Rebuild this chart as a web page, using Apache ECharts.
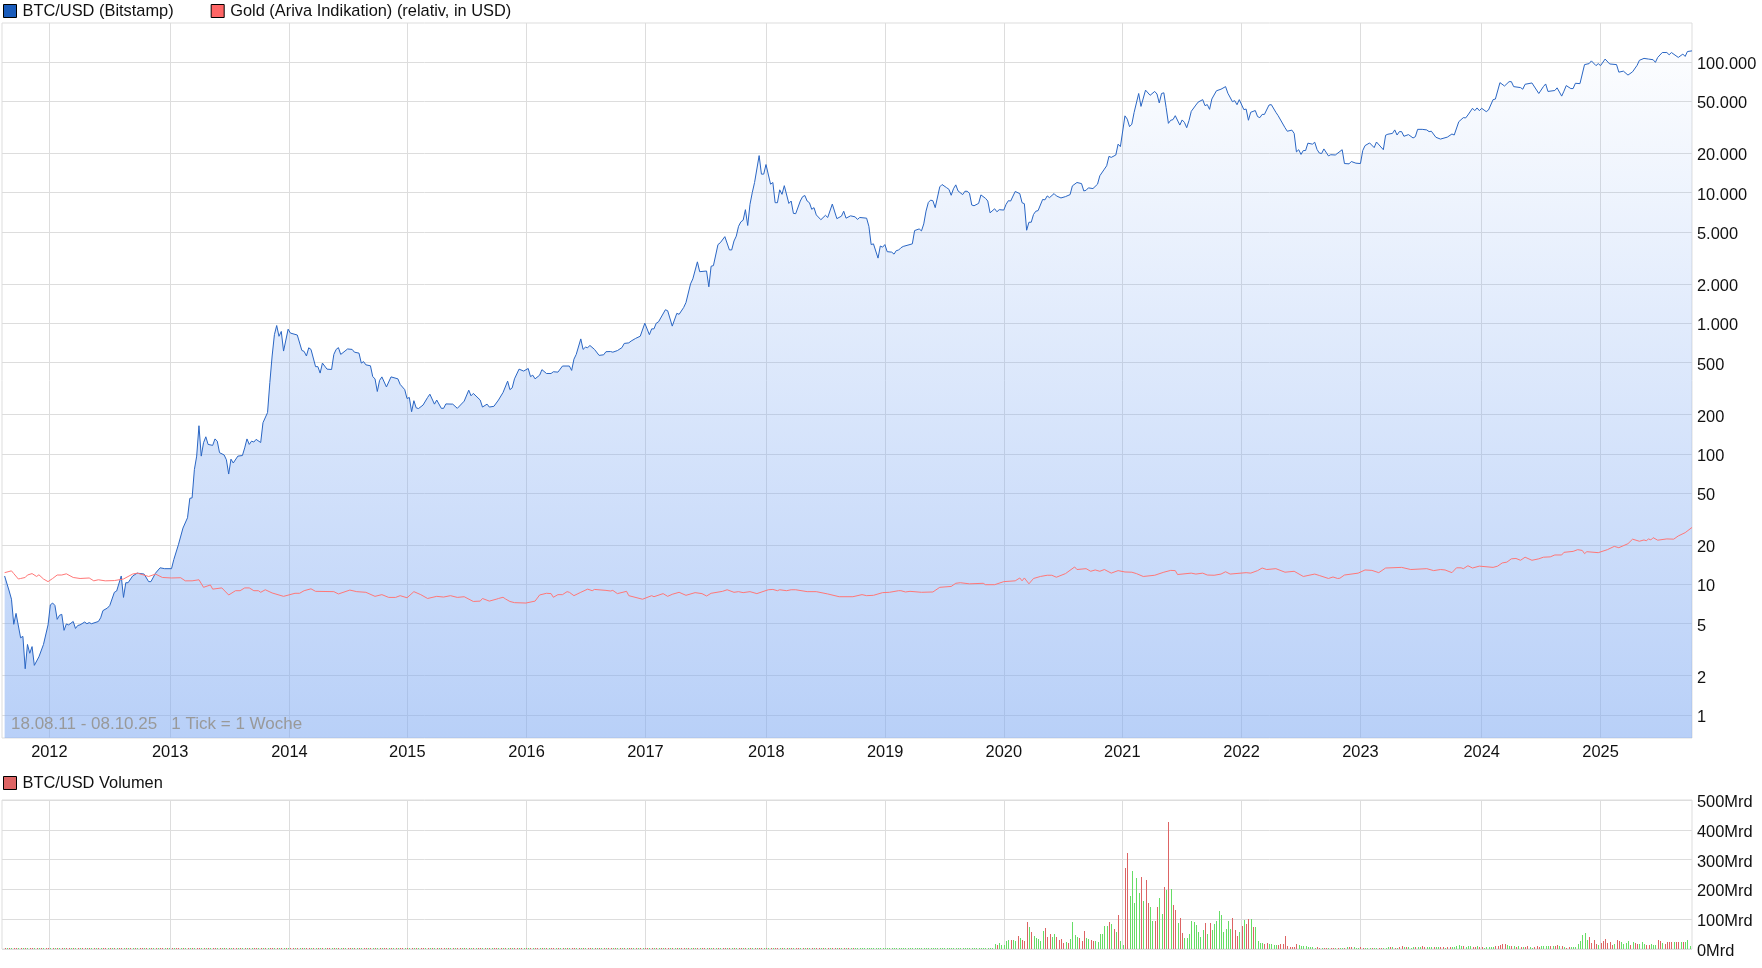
<!DOCTYPE html>
<html>
<head>
<meta charset="utf-8">
<title>BTC/USD</title>
<script src="https://cdn.jsdelivr.net/npm/echarts@6/dist/echarts.min.js"></script>
<style>
html, body { margin: 0; padding: 0; background: #fff; }
#chart { width: 1762px; height: 968px; }
</style>
</head>
<body>
<div id="chart"></div>
<script>
// weeks are counted from the first tick of the chart (17.08.11)
var firstWeek = Date.UTC(2011, 7, 17);

var btcWeeks = [
  0,2,3,4,5,7,8,9,10,11,12,13,15,17,19,20,21,22,23,24,25,26,27,28,30,31,32,33,35,36,37,38,41,42,43,45,46,48,49,51,52,53,54,56,58,61,63,64,66,68,70,73,74,76,
  78,80,81,82,83,84,85,86,87,88,89,91,92,93,94,96,97,98,99,100,102,104,105,106,107,108,109,110,112,113,115,116,117,118,119,120,121,122,124,125,128,130,131,132,133,134,136,137,138,139,141,143,144,145,146,147,148,150,152,153,155,156,157,158,160,161,162,163,164,165,167,169,172,173,175,176,177,178,179,180,181,183,185,186,188,189,191,192,193,196,198,201,203,204,205,208,209,211,212,214,216,218,220,221,222,223,225,227,229,230,231,232,234,
  235,237,239,240,242,244,247,248,249,250,252,253,254,255,256,258,260,262,263,265,266,268,270,271,273,274,276,278,280,282,283,284,285,286,289,290,292,294,295,297,298,300,301,303,304,307,308,309,310,312,313,315,317,318,319,320,321,322,323,324,325,326,327,328,330,331,332,333,335,336,337,338,339,340,341,343,344,345,346,348,349,350,351,352,353,354,355,357,359,360,362,364,366,367,368,370,372,373,374,377,378,379,380,382,383,384,385,386,388,389,390,391,
  392,393,397,398,400,401,402,403,404,405,406,407,409,410,412,413,414,415,416,417,419,420,421,422,423,424,426,427,429,430,431,433,434,435,437,438,439,440,442,444,445,446,447,448,449,450,451,452,454,455,456,457,459,460,462,464,466,467,469,471,472,473,474,476,478,479,481,482,483,484,486,487,488,490,491,492,493,494,496,497,499,501,503,504,505,
  506,507,508,509,510,511,512,514,515,516,517,518,519,521,522,524,525,526,527,528,530,532,534,535,537,538,539,540,542,543,544,545,547,548,549,550,551,553,554,556,557,560,561,563,564,565,566,567,568,569,570,572,573,574,575,576,577,579,580,582,585,586,588,589,591,593,594,595,597,599,600,603,604,605,607,608,609,610,611,612,614,616,617,618,620,622,623,
  624,626,628,631,633,634,636,638,639,640,642,643,644,645,646,648,649,651,652,654,656,658,659,660,663,664,665,668,671,673,674,675,678,679,681,682,683,685,686,687,689,691,693,694,696,697,698,700,702,705,706,708,710,712,714,715,717,719,721,722,723,725,727,728,729,732,734,735,736,738
];
var btcValues = [
  11.6,8.9,7.7,4.95,6.0,3.9,4.0,2.26,3.47,2.97,3.34,2.4,2.79,3.47,4.9,6.97,7.2,6.9,5.4,5.8,5.9,4.45,4.98,4.9,5.2,4.6,4.85,4.9,5.15,5.0,5.1,5.0,5.2,5.55,6.3,6.6,6.9,8.7,8.9,11.6,7.95,10.3,10.3,11.6,12.2,12,10.5,10.5,12.2,13.4,13.2,13.2,15.5,20.1,
  27,32.4,45.6,46,75.7,96,164,96,121.6,135,118,116,130,125,102,98,90,70,91,85,96,97,111,130,118,125,123,129,122,173,207,351,561,817,960,794,865,612,900,840,812,619,608,561,648,630,465,465,415,495,445,442,577,630,650,577,595,635,630,600,590,495,508,480,472,390,375,300,365,388,325,388,375,340,310,265,270,210,255,225,222,236,270,286,240,258,223,223,241,240,223,253,307,278,290,258,228,240,228,231,258,295,360,310,320,375,445,430,450,390,400,375,400,
  441,412,412,425,422,470,470,435,530,577,758,630,655,650,675,630,567,573,605,607,600,617,650,700,707,730,765,795,1000,817,905,905,1000,1025,1268,1245,950,1190,1170,1320,1440,2000,2185,2950,2480,2510,1900,2730,2760,4000,4130,4600,3640,3640,4260,4640,5520,5970,6150,7400,5600,8130,10000,11950,19200,13850,13850,16400,11600,11950,8370,8370,10500,9700,11300,8260,8620,6930,6900,8620,9300,9500,8620,8370,7450,7670,6750,6200,6700,6450,8170,6320,6600,7200,6370,6640,6520,6230,6450,6370,5520,4000,4050,3150,3900,3820,4000,3530,3500,3380,3600,3630,
  3780,3870,4050,5120,5270,5090,5760,7220,8400,8760,8660,7670,11060,11530,10900,10600,9540,10700,11460,10300,9650,10240,10240,9880,8030,7930,8270,9600,9040,8620,7000,7520,7130,7400,7350,8130,8670,8620,10200,9820,8370,8220,5150,5930,5930,6800,7200,7280,8860,8800,9430,9150,9830,9430,9100,9320,9650,11260,11950,11720,10300,10420,10870,10740,11600,13450,15130,16050,18950,18600,19400,23500,22500,38700,36500,32000,33400,41100,57400,45700,60900,55600,59500,56900,48600,
  57400,58100,44900,33900,35800,36200,38800,32900,36000,34500,31400,35600,41900,46800,49300,51500,46300,47200,43400,52100,60200,61900,64800,57700,49700,50600,47100,51500,43200,43600,35800,41200,42500,38200,37500,39700,39700,46800,47200,41200,38800,31400,29500,30100,28400,20500,21300,19600,21000,21000,23900,23500,24300,21400,20100,19900,21600,19100,19500,19400,21300,16700,16600,17300,16800,16700,21000,22900,24000,22100,24400,21300,27500,28000,28400,30200,27600,29300,29300,27000,27800,26200,26800,30500,30500,30200,29300,
  29500,26500,25700,26600,28100,27600,34900,37500,37300,39300,44200,42400,44500,42400,44200,41700,42900,51500,52000,69500,65500,70700,70700,64800,63700,61900,67500,69100,57400,64800,67900,59500,60500,63400,54800,59800,66000,62600,62600,68700,68300,95500,97200,102000,93800,97200,93800,105300,96600,95500,83600,85100,79400,84100,94400,103000,106600,105300,104100,99400,108400,118200,118200,113600,118200,108400,115000,110300,120300,121700
];

var goldWeeks = [
  0,3,4,6,7,9,10,12,14,15,17,19,21,23,25,27,30,33,37,39,41,44,48,52,56,58,63,66,69,73,77,79,82,85,87,90,91,95,98,101,103,105,107,109,111,112,114,117,122,127,129,131,134,136,144,146,151,154,158,162,165,168,171,173,176,179,182,185,189,192,195,198,201,205,208,209,212,215,216,
  218,219,221,223,228,232,234,237,239,240,242,244,246,247,249,252,255,257,258,263,265,266,268,272,273,279,283,284,288,290,292,295,298,302,305,307,309,314,316,319,321,323,326,329,334,336,338,339,342,344,346,351,355,360,365,371,375,377,380,384,387,391,392,394,396,401,406,409,414,416,418,422,428,429,433,437,442,444,445,446,448,450,453,456,458,460,464,468,469,473,475,477,
  479,481,484,487,490,493,495,498,503,507,510,512,513,519,521,524,526,529,532,534,536,543,545,548,550,552,556,560,564,568,573,575,579,581,583,584,586,592,595,598,601,604,611,615,622,625,628,630,633,635,637,638,640,642,645,651,653,655,657,659,661,663,665,668,671,673,676,678,681,682,686,688,690,691,692,697,701,704,706,710,712,715,717,718,719,720,721,723,727,730,732,735,738
];
var goldValues = [
  12.3,12.7,12.1,11,11.1,11.3,11.8,12.1,11.5,11.85,11,10.5,11.1,11.8,11.8,12.05,11.3,11.1,11.2,10.65,10.85,10.65,10.7,11,12,12.2,11.5,12,11.3,11.2,11.25,10.65,10.65,10.85,9.5,9.9,9.2,9.4,8.3,8.95,8.95,9.4,9.4,8.95,8.95,8.7,9.1,8.6,8.1,8.55,8.55,8.95,9.25,8.85,8.8,8.45,9.05,8.8,8.7,8.1,8.35,7.95,7.95,8.2,7.9,8.8,8.35,7.8,8.1,8,8.2,7.95,8.05,7.4,7.45,7.8,7.45,7.7,7.8,
  7.97,7.75,7.4,7.25,7.2,7.45,8.3,8.55,8.5,7.97,8.35,8.35,8.8,8.7,8.2,8.7,9.2,8.95,9.15,9,8.9,9,8.5,8.85,8.2,7.7,8.2,8.05,8.5,8.1,8.4,8.7,8.25,8.65,8.5,8.15,8.55,8.85,9.1,8.7,8.8,8.65,8.8,8.5,9.1,9.15,8.95,9.1,8.95,9.1,9.1,8.8,8.8,8.45,8.05,8.05,8.35,8.2,8.25,8.65,8.7,8.95,8.95,8.75,8.85,8.7,8.75,9.5,9.65,10.2,10.3,10.1,10.2,9.95,9.95,10.5,10.65,11.2,10.65,11.2,10.1,11.1,11.5,11.75,11.75,11.35,12.1,13.6,13,13.2,12.6,12.9,
  12.6,13,12.2,12.75,12.45,12.4,12.1,11.5,11.75,12.4,12.8,12.75,11.9,12.2,12,12.2,11.8,11.75,12,12.5,12,12.3,12.2,12.75,13.35,13,13.2,12.4,12.6,11.5,12,11.7,11.1,11.4,11.1,11.15,11.8,12.2,12.9,12.8,12.3,13.35,13.5,13,13.2,12.75,13,12.9,12.3,13.4,13.4,13.2,13.9,13.35,13.8,13.5,13.8,14.6,14.8,15.7,15.8,15.3,16.15,15.3,15.7,16.15,16.25,16.8,16.8,17.6,17.9,18.45,18.2,17.2,17.8,17.5,18.45,19.55,19.1,20.5,22.2,21.4,21.9,21.6,22.3,21.9,22.8,21.8,22.3,22.2,23.5,24.9,27.3
];

// volume in Mrd, one value per week, g = green week, r = red week
var volEarly = [
  0.1,0.1,0.1,0.1,0.1,0.1,0.1,0.1,0.1,0.1,0.1,0.1,0.1,0.1,0.1,0.1,0.1,0.1,0.1,0.1,0.1,0.1,0.1,0.1,0.1,0.1,
  0.1,0.1,0.1,0.1,0.1,0.1,0.1,0.1,0.1,0.1,0.1,0.1,0.1,0.1,0.1,0.1,0.1,0.1,0.1,0.1,0.1,0.1,0.1,0.1,0.1,0.1,
  0.1,0.1,0.1,0.1,0.1,0.1,0.1,0.1,0.1,0.1,0.1,0.1,0.1,0.1,0.1,0.1,0.1,0.1,0.1,0.1,0.1,0.1,0.1,0.1,0.1,0.1,
  0.1,0.1,0.1,0.1,0.1,0.1,0.1,0.1,0.1,0.1,0.1,0.1,0.1,0.1,0.1,0.1,0.1,0.1,0.1,0.1,0.1,0.1,0.1,0.1,0.1,0.1,
  0.1,0.1,0.1,0.1,0.1,0.1,0.1,0.1,0.1,0.1,0.1,0.1,0.1,0.1,0.1,0.1,0.1,0.1,0.1,0.1,0.1,0.1,0.1,0.1,0.1,0.1,
  0.1,0.1,0.1,0.1,0.1,0.1,0.1,0.1,0.1,0.1,0.1,0.1,0.1,0.1,0.1,0.1,0.1,0.1,0.1,0.1,0.1,0.1,0.1,0.1,0.1,0.1,
  0.2,0.2,0.1,0.1,0.2,0.1,0.1,0.2,0.2,0.1,0.2,0.1,0.1,0.2,0.1,0.2,0.2,0.1,0.1,0.2,0.2,0.1,0.2,0.1,0.2,0.1,
  0.2,0.2,0.3,0.2,0.2,0.3,0.2,0.3,0.3,0.2,0.2,0.3,0.2,0.3,0.2,0.3,0.3,0.2,0.3,0.3,0.2,0.3,0.3,0.2,0.3,0.3,
  0.3,0.4,0.3,0.4,0.4,0.3,0.4,0.5,0.4,0.4,0.5,0.4,0.5,0.4,0.5,0.5,0.6,0.5,0.5,0.6,0.5,0.6,0.7,0.6,0.7,0.7,
  0.8,0.7,0.9,0.8,0.9,1,0.9,1,1.1,1,1.2,1.1,1.3,1.2,1.4,1.3,1.5,1.4,1.6,1.8,1.7,1.9,1.8,2.2,1.9,2,
  2.1,1.9,1.8,1.7,1.9,1.7,1.6,1.5,1.7,1.5,1.6,1.4,1.5,1.4,1.3,1.5,1.4,1.3,1.4,1.3,1.4,1.2,1.3,1.5,1.4,1.3,
  1.4,1.6,1.5,1.7,1.8,1.6,2,1.9,2.1,2.3,2.5,2.2,2.4,2.6,2.2,2.4,2.1,2.3,2.5,2.2,2,2.3,2.1,2.4,2.2,2.5,
  2.3,2.7,2.5,2.9,2.6,2.8,3,2.7,2.9,3.1,2.8,3,2.7,3.2,3,2.9,3.1,2.8,3,3.3,3,3.1,3,3.2,3,3.1,
  3.2,3,3.1,3,3.1,3,3,3,2.8,2.7,2.9,2.6,2.4,2.5,2.3,2.6,2.4,2.2,2.3,2.5,2.1,2.2,2.4,2.3,2.1,2.2,2.4,2.2,2.3,2.5,
  2.4,2.6,2.3,2.5,2.7,2.4,2.6,2.8,2.5,2.7,2.9,2.6,2.8,2.5,2.7,2.9,2.8,2.6,2.8,3,2.7,2.9,3.1,2.8,3,2.8,
  3,3.2,2.9,3.1,3.3,3,3.2,3.4,3.1,3.3,3.5,3.2,3.4,3.1,3.3,3.5,3.3,3.1,3.4,3.6,3.3,3.5,3.7,3.4,3.6,3.4,
  3.2,3,3.1,3,3.1,3,3,3,3,3,3,3,3,3,3,3,3,3,3,3
];
var volEarlySides = 'rgrgrrgrgrgrrgrgrgrrgrgrgrgrrgrgrgrrgrgrgrgrrgrgrgrrgrgrgrgrrgrgrgrgrrgrgrgrrgrgrgrgrrgrgrgrrgrgrgrgrrgrgrgrgrrgrgrgrrgrgrgrgrrgrgrgrrgrgrgrgrrgrgrgrgrrgrgrgrrgrgrgrgrrgrgrgrrgrgrgrgrrgrgrgrgrrgrgrgrrgrgrgrgrrgrgrgrrgrgrgrgrrgrgrgrgrrgrgrgrrgrgrgrgrrgrgrgrrgrgrgrgrrgrgrgrgrrgrgrgrrgrgrgrgrrgrgrgrrgrgrgrgrrgrgrgrgrrgrgrgrrgrgrgrgrrgrgrgrrgrgrgrgrrgrgrgrgrrgrgrgrrgrgrgrgr';
var volPeakStart = 433;
var volPeak = [
  17,13,20,13,13,27,30,30,30,27,43,37,30,27,90,73,57,43,37,33,27,60,70,40,50,40,50,40,30,33,20,23,20,33,90,47,40,37,27,60,37,33,30,27,27,23,50,50,77,77,90,83,67,57,113,27,12,
  273,323,177,263,153,237,187,240,160,230,153,140,93,93,140,170,117,207,197,427,200,147,130,87,103,53,37,37,50,93,90,80,57,40,63,87,50,87,63,83,93,127,113,57,67,93,67,103,63,43,57,77,97,83,100,100,73,73,27,20,20,17,20,17,17,13,13,13,17,17,43,10,7,7,7,17,13
];
var volPeakSides = 'grgggggrggrgrrrgrgggggrrrggrrrrgrggggrrrggrrggggggrgrgrg' +
  'grrgggggrgrrggrrggrgrgrrgrrgggggggggrgrgggggggggrrrgrgrrgrggggrrggggrrrrrrrrrgrr';
var volLate = [
  9,9,10,7,6,6,5,6,5,4,5,4,3,5,5,3,4,2,3,2,7,6,6,6,4,3,6,3,3,3,2,5,4,3,4,5,4,4,6,6,6,3,5,6,9,8,6,7,5,7,6,6,6,10,6,7,8,6,6,6,7,6,6,5,6,6,7,6,10,12,9,9,8,9,9,8,8,9,8,8,5,8,7,7,7,9,10,14,16,17,13,10,10,9,8,9,7,8,6,9,8,5,8,9,7,9,9,9,10,10,9,9,12,10,9,8,5,8,8,7,7,
  18,27,47,54,30,40,20,30,17,12,20,27,33,20,25,13,17,30,27,22,17,20,26,14,23,19,17,17,24,18,15,12,17,14,15,30,26,20,18,24,25,23,22,23,22,23,23,22,30,10
];
var volLateSides = 'gggggggrrgrrgrrgrggrgrrgggrrgggrggrrgggrgrgrrgrgggrggrrgggrggrrgrrgggggrgggrrgrrgggggrrrrrggrgrgrgrrggrrrggggrgrrgrgrrg' +
  'ggggggg' + 'rrrrgrrrrrrgrrggggrgrrgggrrgggrrgrrrrgrrg' + 'r';

var yearTicks = [
  '2012-01-01','2013-01-05','2014-01-05','2015-01-01','2016-01-01','2016-12-30','2018-01-04',
  '2019-01-03','2020-01-01','2020-12-29','2021-12-29','2022-12-28','2024-01-03','2025-01-01'
];
var yearLabels = ['2012','2013','2014','2015','2016','2017','2018','2019','2020','2021','2022','2023','2024','2025'];
var priceTicks = [1,2,5,10,20,50,100,200,500,1000,2000,5000,10000,20000,50000,100000];

var weekDay = 7 * 24 * 3600 * 1000;
function weekDate(k) {
  return firstWeek + k * weekDay;
}
var tickTimes = yearTicks.map(function (d) { return new Date(d + 'T00:00:00Z').getTime(); });

function volBars(values, sides, start) {
  return values.map(function (v, i) {
    return [weekDate(start + i), v, sides.charAt(i) === 'r' ? 1 : 0];
  });
}

// one pixel bars, snapped so they stay crisp
function renderVolBar(params, api) {
  var top = api.coord([api.value(0), api.value(1)]);
  var base = api.coord([api.value(0), 0]);
  var x = Math.round(top[0]);
  var y = Math.min(Math.round(top[1]), Math.round(base[1]) - 1);
  return {
    type: 'rect',
    shape: { x: x, y: y, width: 1, height: Math.round(base[1]) - y },
    style: { fill: api.value(2) === 1 ? '#dd6464' : '#66dd66' }
  };
}

var labelFont = { fontFamily: 'Liberation Sans', fontSize: 16.4, color: '#111', padding: [2, 0, 0, 1] };

// linear axis over timestamps, the ticks are set by hand from yearTicks
var xBase = {
  type: 'value',
  scale: true,
  min: Date.UTC(2011, 7, 9),
  max: Date.UTC(2025, 9, 8),
  axisLine: { show: false },
  axisTick: { show: false, customValues: tickTimes },
  splitLine: { show: true, lineStyle: { color: '#ddd', width: 1 } }
};

var myChart = echarts.init(document.getElementById('chart'));
var option = {
  animation: false,
  backgroundColor: '#fff',
  textStyle: { fontFamily: 'Liberation Sans' },
  legend: [{
    left: 3, top: 3, padding: 0, itemWidth: 13, itemHeight: 13, itemGap: 37, icon: 'rect',
    textStyle: labelFont,
    data: [
      { name: 'BTC/USD (Bitstamp)', itemStyle: { color: '#1a5cbb', borderColor: '#000', borderWidth: 1 } },
      { name: 'Gold (Ariva Indikation) (relativ, in USD)', itemStyle: { color: '#ff6666', borderColor: '#000', borderWidth: 1 } }
    ]
  }, {
    left: 3, top: 775, padding: 0, itemWidth: 13, itemHeight: 13, icon: 'rect',
    textStyle: labelFont,
    data: [{ name: 'BTC/USD Volumen', itemStyle: { color: '#dd6464', borderColor: '#000', borderWidth: 1 } }]
  }],
  grid: [
    { left: 2, right: 70, top: 23, height: 715, show: true, borderColor: '#ddd', borderWidth: 1, backgroundColor: 'transparent' },
    { left: 2, right: 70, top: 800, height: 149, show: true, borderColor: '#ddd', borderWidth: 1, backgroundColor: 'transparent' }
  ],
  xAxis: [
    Object.assign({}, xBase, {
      gridIndex: 0,
      axisLabel: {
        show: true, margin: 6, fontFamily: 'Liberation Sans', fontSize: 16.4, color: '#111',
        customValues: tickTimes,
        formatter: function (v) {
          var i = tickTimes.indexOf(+v);
          return i < 0 ? '' : yearLabels[i];
        }
      }
    }),
    Object.assign({}, xBase, { gridIndex: 1, axisLabel: { show: false } })
  ],
  yAxis: [{
    gridIndex: 0,
    type: 'log',
    logBase: 10,
    min: 0.6667,
    max: 198900,
    position: 'right',
    axisLine: { show: false },
    axisTick: { show: false, customValues: priceTicks },
    splitLine: { show: true, lineStyle: { color: '#ddd', width: 1 } },
    axisLabel: {
      margin: 5, fontFamily: 'Liberation Sans', fontSize: 16.4, color: '#111',
      verticalAlign: 'top', lineHeight: 5,
      customValues: priceTicks,
      formatter: function (v) {
        return String(Math.round(v)).replace(/\B(?=(\d{3})+$)/g, '.');
      }
    }
  }, {
    gridIndex: 1,
    type: 'value',
    min: 0,
    max: 500,
    interval: 100,
    position: 'right',
    axisLine: { show: false },
    axisTick: { show: false },
    splitLine: { show: true, lineStyle: { color: '#ddd', width: 1 } },
    axisLabel: {
      margin: 5, fontFamily: 'Liberation Sans', fontSize: 16.4, color: '#111',
      verticalAlign: 'top', lineHeight: 5,
      formatter: function (v) { return v + 'Mrd'; }
    }
  }],
  series: [{
    name: 'BTC/USD (Bitstamp)',
    type: 'line',
    xAxisIndex: 0,
    yAxisIndex: 0,
    showSymbol: false,
    symbol: 'none',
    lineStyle: { color: '#2a66c4', width: 1 },
    itemStyle: { color: '#1a5cbb' },
    areaStyle: {
      origin: 'start',
      opacity: 1,
      // global gradient over the whole plot height, so the colour only depends on the height
      color: new echarts.graphic.LinearGradient(0, 23, 0, 738, [
        { offset: 0, color: 'rgba(126,169,242,0)' },
        { offset: 1, color: 'rgba(126,169,242,0.55)' }
      ], true)
    },
    data: btcWeeks.map(function (k, i) { return [weekDate(k), btcValues[i]]; }),
    z: 2
  }, {
    name: 'Gold (Ariva Indikation) (relativ, in USD)',
    type: 'line',
    xAxisIndex: 0,
    yAxisIndex: 0,
    showSymbol: false,
    symbol: 'none',
    lineStyle: { color: '#ff7777', width: 1 },
    itemStyle: { color: '#ff6666' },
    data: goldWeeks.map(function (k, i) { return [weekDate(k), goldValues[i]]; }),
    z: 3
  }, {
    name: 'BTC/USD Volumen',
    type: 'custom',
    xAxisIndex: 1,
    yAxisIndex: 1,
    renderItem: renderVolBar,
    encode: { x: 0, y: 1 },
    itemStyle: { color: '#dd6464' },
    data: volBars(volEarly, volEarlySides, 0)
      .concat(volBars(volPeak, volPeakSides, volPeakStart))
      .concat(volBars(volLate, volLateSides, volPeakStart + volPeak.length))
  }],
  graphic: [{
    type: 'text',
    left: 11,
    top: 716,
    z: 10,
    style: {
      text: '18.08.11 - 08.10.25   1 Tick = 1 Woche',
      fontFamily: 'Liberation Sans',
      fontSize: 17,
      fill: '#999'
    }
  }]
};

myChart.setOption(option);
</script>
</body>
</html>
